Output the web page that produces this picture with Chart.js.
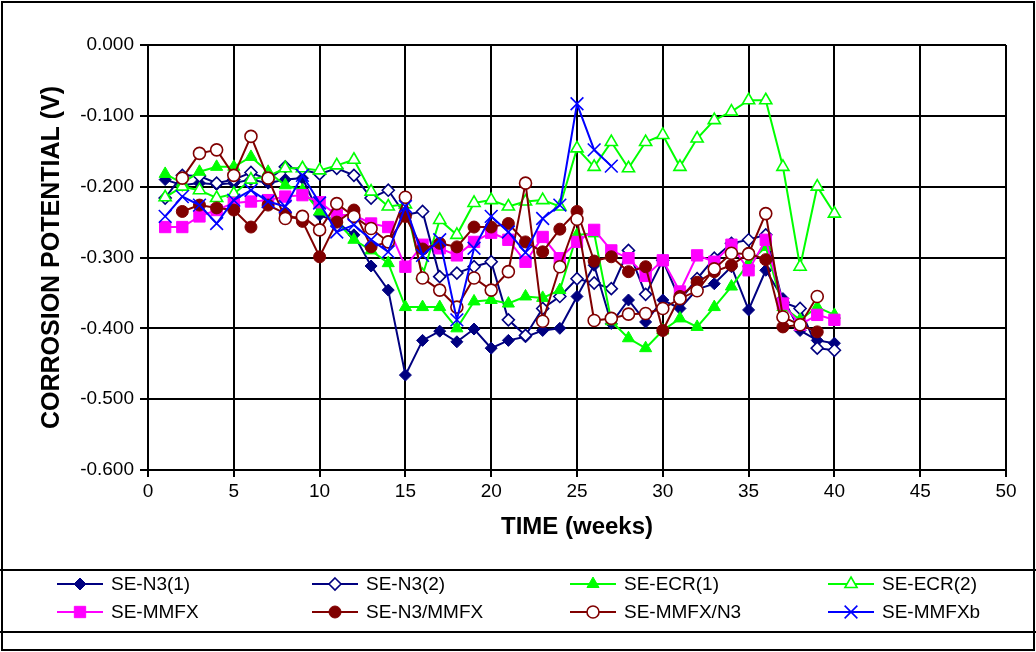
<!DOCTYPE html>
<html>
<head>
<meta charset="utf-8">
<title>Corrosion potential</title>
<script src="https://cdn.jsdelivr.net/npm/chart.js"></script>
<style>
  html, body { margin: 0; padding: 0; background: #fff; }
  canvas { display: block; }
</style>
</head>
<body>
<canvas id="chart" width="1036" height="652"></canvas>
<script>
// weeks of exposure
var weeks = [1,2,3,4,5,6,7,8,9,10,11,12,13,14,15,16,17,18,19,20,
             21,22,23,24,25,26,27,28,29,30,31,32,33,34,35,36,37,38,39,40];

// corrosion potential readings (V)
var seN3_1 = [-0.190,-0.198,-0.195,-0.197,-0.195,-0.190,-0.195,-0.190,-0.188,-0.240,
              -0.250,-0.268,-0.312,-0.346,-0.466,-0.417,-0.404,-0.419,-0.401,-0.428,
              -0.417,-0.412,-0.403,-0.400,-0.355,-0.311,-0.393,-0.360,-0.391,-0.360,
              -0.372,-0.345,-0.337,-0.313,-0.374,-0.318,-0.358,-0.403,-0.417,-0.421];
var seN3_2 = [-0.216,-0.184,-0.185,-0.195,-0.190,-0.180,-0.190,-0.172,-0.176,-0.182,
              -0.174,-0.184,-0.216,-0.205,-0.240,-0.235,-0.327,-0.322,-0.313,-0.306,
              -0.388,-0.410,-0.372,-0.355,-0.330,-0.336,-0.344,-0.290,-0.352,-0.304,
              -0.360,-0.330,-0.301,-0.280,-0.275,-0.268,-0.363,-0.372,-0.428,-0.431];
var seECR_1 = [-0.182,-0.195,-0.179,-0.172,-0.172,-0.158,-0.179,-0.198,-0.205,-0.235,
               -0.250,-0.275,-0.290,-0.308,-0.370,-0.370,-0.370,-0.400,-0.362,-0.360,
               -0.365,-0.355,-0.357,-0.346,-0.268,-0.266,-0.390,-0.414,-0.428,-0.403,
               -0.386,-0.398,-0.370,-0.341,-0.308,-0.285,-0.370,-0.388,-0.370,-0.381];
var seECR_2 = [-0.215,-0.200,-0.205,-0.216,-0.210,-0.190,-0.185,-0.174,-0.174,-0.177,
               -0.170,-0.162,-0.207,-0.228,-0.225,-0.325,-0.247,-0.268,-0.223,-0.219,
               -0.228,-0.221,-0.219,-0.228,-0.146,-0.172,-0.137,-0.174,-0.137,-0.127,
               -0.172,-0.132,-0.106,-0.094,-0.078,-0.078,-0.172,-0.313,-0.200,-0.238];
var seMMFX = [-0.257,-0.257,-0.242,-0.233,-0.223,-0.221,-0.219,-0.214,-0.212,-0.222,
              -0.240,-0.240,-0.252,-0.257,-0.313,-0.282,-0.287,-0.297,-0.278,-0.265,
              -0.275,-0.306,-0.271,-0.301,-0.278,-0.261,-0.290,-0.301,-0.326,-0.304,
              -0.348,-0.297,-0.306,-0.282,-0.318,-0.275,-0.365,-0.395,-0.381,-0.388];
var seN3MMFX = [null,-0.235,-0.226,-0.230,-0.233,-0.257,-0.226,-0.238,-0.249,-0.299,
                -0.250,-0.233,-0.285,-0.278,-0.242,-0.288,-0.280,-0.285,-0.257,-0.257,
                -0.252,-0.278,-0.292,-0.260,-0.235,-0.305,-0.299,-0.320,-0.313,-0.403,
                -0.355,-0.335,-0.320,-0.311,-0.294,-0.303,-0.398,-0.395,-0.405,null];
var seMMFXN3 = [null,-0.188,-0.153,-0.148,-0.184,-0.129,-0.188,-0.245,-0.242,-0.261,
                -0.224,-0.242,-0.259,-0.278,-0.215,-0.329,-0.346,-0.370,-0.329,-0.346,
                -0.320,-0.195,-0.390,-0.313,-0.246,-0.389,-0.386,-0.380,-0.379,-0.372,
                -0.358,-0.347,-0.316,-0.294,-0.295,-0.238,-0.384,-0.395,-0.355,null];
var seMMFXb = [-0.242,-0.214,-0.226,-0.252,-0.219,-0.205,-0.221,-0.228,-0.184,-0.223,
               -0.264,-0.254,-0.275,-0.292,-0.228,-0.297,-0.275,-0.388,-0.287,-0.242,
               -0.264,-0.293,-0.245,-0.226,-0.083,-0.148,-0.171];

var xTicks = [0, 5, 10, 15, 20, 25, 30, 35, 40, 45, 50];
var yTicks = [0, -0.1, -0.2, -0.3, -0.4, -0.5, -0.6];

var FONT = "'Liberation Sans', Arial, sans-serif";

function pts(vals) {
  var out = [];
  for (var i = 0; i < vals.length; i++) {
    if (vals[i] !== null) out.push({ x: weeks[i], y: vals[i] });
  }
  return out;
}

// label, values, colour, point style, radius, filled
var series = [
  ['SE-N3(1)',    seN3_1,   '#000080', 'rectRot',  6, true],
  ['SE-N3(2)',    seN3_2,   '#000080', 'rectRot',  6, false],
  ['SE-ECR(1)',   seECR_1,  '#00FF00', 'triangle', 7, true],
  ['SE-ECR(2)',   seECR_2,  '#00FF00', 'triangle', 7, false],
  ['SE-MMFX',     seMMFX,   '#FF00FF', 'rect',     8, true],
  ['SE-N3/MMFX',  seN3MMFX, '#800000', 'circle',   6, true],
  ['SE-MMFX/N3',  seMMFXN3, '#800000', 'circle',   6, false],
  ['SE-MMFXb',    seMMFXb,  '#0000FF', 'crossRot', 9, false]
];

var datasets = series.map(function (s, i) {
  return {
    label: s[0],
    data: pts(s[1]),
    borderColor: s[2],
    backgroundColor: s[5] ? s[2] : '#FFFFFF',
    borderWidth: 2,
    pointStyle: s[3],
    pointRadius: s[4],
    pointBorderWidth: s[5] ? 1 : 1.6,
    pointBackgroundColor: s[5] ? s[2] : '#FFFFFF',
    pointBorderColor: s[2],
    tension: 0,
    order: series.length - i
  };
});

function drawMarker(ctx, style, r, x, y) {
  var a;
  ctx.beginPath();
  if (style === 'rectRot') {
    ctx.moveTo(x, y - r); ctx.lineTo(x + r, y); ctx.lineTo(x, y + r); ctx.lineTo(x - r, y);
    ctx.closePath();
  } else if (style === 'triangle') {
    a = r * 1.5 / Math.sqrt(3);
    ctx.moveTo(x, y - r); ctx.lineTo(x + r * 0.866, y + r * 0.5); ctx.lineTo(x - r * 0.866, y + r * 0.5);
    ctx.closePath();
  } else if (style === 'rect') {
    a = r * Math.SQRT1_2;
    ctx.rect(x - a, y - a, 2 * a, 2 * a);
  } else if (style === 'circle') {
    ctx.arc(x, y, r, 0, Math.PI * 2);
    ctx.closePath();
  } else if (style === 'crossRot') {
    a = r * Math.SQRT1_2;
    ctx.moveTo(x - a, y - a); ctx.lineTo(x + a, y + a);
    ctx.moveTo(x + a, y - a); ctx.lineTo(x - a, y + a);
  }
  if (style !== 'crossRot') ctx.fill();
  ctx.stroke();
}

// frame lines and the boxed legend under the plot
var framePlugin = {
  id: 'frame',
  afterDraw: function (chart) {
    var ctx = chart.ctx;
    ctx.save();
    ctx.strokeStyle = '#000';
    ctx.lineWidth = 2;
    ctx.strokeRect(2, 2, 1032, 648);
    ctx.beginPath();
    ctx.moveTo(0, 570); ctx.lineTo(1036, 570);
    ctx.moveTo(0, 632); ctx.lineTo(1036, 632);
    ctx.stroke();

    var colX = [57, 312, 570, 828];
    var rowY = [584, 612];
    ctx.font = '19px ' + FONT;
    ctx.textBaseline = 'middle';
    ctx.textAlign = 'left';
    series.forEach(function (s, i) {
      var x = colX[i % 4], y = rowY[Math.floor(i / 4)];
      ctx.strokeStyle = s[2];
      ctx.lineWidth = 2;
      ctx.beginPath();
      ctx.moveTo(x, y); ctx.lineTo(x + 46, y);
      ctx.stroke();
      ctx.fillStyle = s[5] ? s[2] : '#FFFFFF';
      ctx.lineWidth = s[5] ? 1 : 1.6;
      drawMarker(ctx, s[3], s[4], x + 23, y);
      ctx.fillStyle = '#000';
      ctx.fillText(s[0], x + 54, y + 1);
    });
    ctx.restore();
  }
};

new Chart(document.getElementById('chart'), {
  type: 'line',
  data: { datasets: datasets },
  options: {
    responsive: false,
    animation: false,
    devicePixelRatio: 1,
    layout: { padding: { left: 0, top: 45, right: 30, bottom: 82 } },
    plugins: {
      legend: { display: false },
      tooltip: { enabled: false }
    },
    scales: {
      x: {
        type: 'linear',
        min: 0,
        max: 50,
        afterBuildTicks: function (scale) {
          scale.ticks = xTicks.map(function (v) { return { value: v }; });
        },
        afterFit: function (scale) { scale.height = 100; },
        grid: { color: '#000', lineWidth: 2, tickLength: 7, drawTicks: true },
        border: { color: '#000', width: 2 },
        ticks: {
          color: '#000',
          font: { family: FONT, size: 19 },
          padding: 3,
          maxRotation: 0,
          callback: function (v) { return String(v); }
        },
        title: {
          display: true,
          text: 'TIME (weeks)',
          color: '#000',
          font: { family: FONT, size: 24, weight: 'bold' },
          padding: { top: 0, bottom: 28 }
        }
      },
      y: {
        type: 'linear',
        min: -0.6,
        max: 0,
        afterBuildTicks: function (scale) {
          scale.ticks = yTicks.map(function (v) { return { value: v }; });
        },
        afterFit: function (scale) { scale.width = 148; },
        grid: { color: '#000', lineWidth: 2, tickLength: 8, drawTicks: true },
        border: { color: '#000', width: 2 },
        ticks: {
          color: '#000',
          font: { family: FONT, size: 19 },
          padding: 6,
          callback: function (v) { return Number(v).toFixed(3); }
        },
        title: {
          display: true,
          text: 'CORROSION POTENTIAL (V)',
          color: '#000',
          font: { family: FONT, size: 25, weight: 'bold' },
          padding: { top: 37, bottom: 0 }
        }
      }
    }
  },
  plugins: [framePlugin]
});
</script>
</body>
</html>
